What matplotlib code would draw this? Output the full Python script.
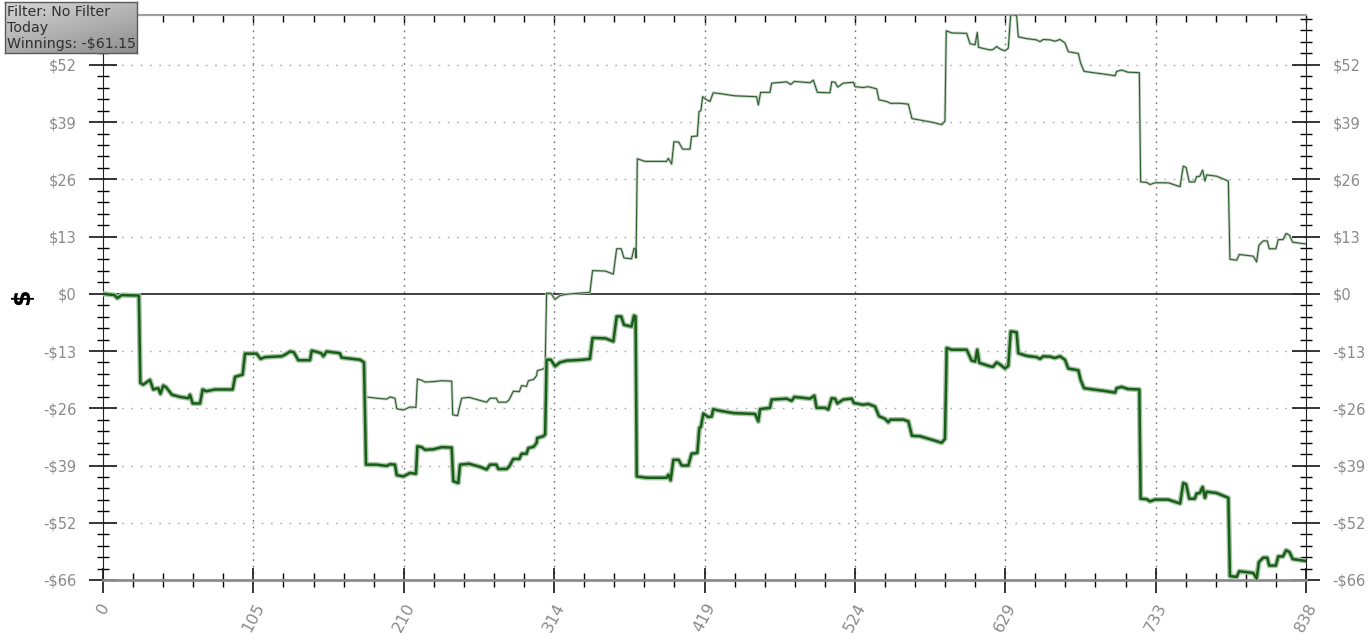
import numpy as np
import matplotlib
matplotlib.use("Agg")
import matplotlib.pyplot as plt
from matplotlib.ticker import FixedLocator, MultipleLocator

# ---------------- data ----------------
hands_won = [0, 8, 10, 13, 25, 26, 28, 32.7, 35, 38.5, 40, 42, 44, 48, 53.6, 59.4, 60.6, 62.5, 67.6,
             69.4, 72, 78, 90.3, 92, 97.3, 98.9, 107, 109.8, 112.8, 124.5, 127, 130.3, 133, 136,
             144.2, 145.4, 149, 152, 153.5, 155.8, 165, 166.2, 179, 181.8, 183.2, 190.6, 197.6, 200,
             203.4, 204.6, 209.2, 213.9, 218, 219, 222, 224.3, 230, 236, 242.9, 244, 247.5, 248.7,
             255, 262.6, 267.3, 269.6, 274, 275.4, 281.2, 283, 285.8, 290, 291.6, 295, 296.3, 300,
             302.1, 302.5, 306.7, 308, 309, 312, 314.9, 318.3, 323, 334, 339.2, 341, 350, 355.5,
             357.8, 361, 362.9, 368.2, 369.9, 371, 371.8, 378.7, 392.6, 393.8, 395.4, 397.3, 401,
             403.1, 407.7, 410, 414, 415.4, 416.5, 418.2, 421.6, 424, 425.1, 428.6, 439, 454.2,
             456.5, 457.7, 464.6, 465.8, 476.2, 479.7, 481.6, 492.5, 495.5, 497.1, 503, 505.2,
             507.6, 510, 511.5, 515.7, 521.5, 523.1, 529.6, 533, 537.8, 540.5, 544.7, 547, 548.5,
             557.5, 561, 563.5, 569.1, 578.4, 584.2, 586.5, 587.7, 591.2, 601.6, 605.1, 607.5, 609,
             610.4, 617.9, 620, 622.5, 625, 628.3, 630.6, 632.3, 636.4, 637.6, 643.4, 650.4, 652.7,
             655, 660, 663.1, 666.6, 670.1, 672.4, 679.4, 681, 683.4, 689.8, 696.8, 705, 706.1,
             709.6, 714, 721.9, 722.8, 727, 729.3, 732.8, 742.1, 750.3, 752.5, 754.5, 756.7, 760.5,
             761.8, 764, 766, 767.6, 768.8, 775.8, 783.9, 785, 789.7, 791.5, 801.3, 803.6, 805.2,
             808.2, 811, 812.4, 817, 818.7, 822, 824.1, 826.5, 828.7, 838]
winnings = [0, -0.3, -1.0, -0.3, -0.4, -20.4, -20.8, -19.7, -21.9, -21.6, -22.9, -21.0, -21.4, -23.1,
            -23.6, -23.9, -23.1, -25.1, -25.1, -21.9, -22.3, -21.9, -21.9, -19.0, -18.5, -13.7,
            -13.7, -14.9, -14.5, -14.3, -13.9, -13.2, -13.4, -15.2, -15.2, -13.0, -13.3, -13.6,
            -14.3, -13.2, -13.6, -14.6, -15.1, -15.7, -39.1, -39.1, -39.4, -39.0, -39.1, -41.5,
            -41.8, -41.0, -41.2, -34.9, -35.1, -35.7, -35.6, -35.1, -35.2, -42.9, -43.3, -39.1,
            -38.9, -39.6, -40.2, -39.1, -39.1, -40.1, -40.1, -39.5, -37.8, -37.8, -36.6, -36.6,
            -35.3, -35.0, -34.1, -33.0, -32.6, -32.2, -15.1, -15.1, -16.6, -15.7, -15.3, -15.1,
            -14.9, -10.1, -10.2, -10.9, -5.2, -5.2, -7.1, -7.5, -5.0, -5.2, -41.8, -42.1, -42.1,
            -41.4, -42.7, -38.0, -38.0, -39.3, -39.3, -36.6, -36.4, -30.7, -30.5, -27.4, -28.2,
            -28.1, -26.4, -26.7, -27.3, -27.5, -29.2, -26.4, -26.1, -24.2, -24.0, -24.5, -23.6,
            -24.0, -23.3, -26.1, -26.1, -26.5, -23.9, -24.0, -25.1, -24.2, -24.0, -25.0, -25.4,
            -25.2, -25.8, -28.0, -28.6, -29.4, -28.8, -28.8, -29.2, -32.5, -32.6, -33.5, -34.1,
            -33.2, -12.4, -12.8, -12.8, -15.3, -15.5, -12.8, -15.8, -16.6, -16.7, -15.7, -16.2,
            -17.1, -16.5, -8.6, -8.8, -13.6, -14.2, -14.5, -14.9, -14.3, -14.4, -14.7, -14.3,
            -15.1, -17.1, -17.5, -19.7, -21.6, -21.9, -22.2, -22.6, -21.6, -21.3, -21.8, -21.9,
            -46.9, -47.0, -47.5, -47.1, -47.1, -48.0, -43.3, -43.6, -46.9, -46.9, -45.7, -45.6,
            -44.2, -46.7, -45.3, -45.6, -46.7, -64.6, -64.8, -63.5, -63.9, -65.2, -61.4, -60.4,
            -60.4, -62.2, -62.2, -60.1, -60.1, -58.7, -59.1, -60.7, -61.15]

hands_ev = [0, 8, 10, 13, 25, 26, 28, 32.7, 35, 38.5, 40, 42, 44, 48, 53.6, 59.4, 60.6, 62.5, 67.6,
            69.4, 72, 78, 90.3, 92, 97.3, 98.9, 107, 109.8, 112.8, 124.5, 127, 130.3, 133, 136,
            144.2, 145.4, 149, 152, 153.5, 155.8, 165, 166.2, 179, 181.8, 183.2, 190.6, 197.6, 200,
            203.4, 204.6, 209.2, 213.9, 218, 219, 222, 224.3, 230, 236, 242.9, 243.6, 247, 249.8,
            255, 262.6, 267.3, 269.6, 274, 275.4, 281.2, 283, 285.8, 290, 291.6, 295, 296.3, 300,
            302.1, 302.5, 306.7, 308, 309, 312, 314.9, 318.3, 323, 334, 339.2, 341, 350, 355.5,
            357.8, 361, 362.9, 368.2, 369.9, 371, 371.3, 372.2, 377.5, 392.6, 393.8, 396.1, 397.7,
            401, 403.8, 408.9, 410, 414, 415.2, 416.5, 417.7, 420, 422.8, 425.1, 430, 440.2, 455.3,
            456.5, 458.1, 464.6, 465.8, 476.2, 479, 481.6, 492.5, 494.8, 497.6, 506.4, 507.6, 510,
            511.8, 515.7, 522.7, 523.9, 529.6, 533, 538.9, 540.5, 545.9, 548.5, 555.2, 561, 563.5,
            578.4, 584.2, 586.5, 587.4, 591.2, 601.6, 604, 607.5, 609, 609.9, 617.9, 620, 622.5,
            625, 628.3, 630.6, 632.3, 636.4, 637.6, 643.4, 650.4, 652.7, 655, 660, 663.1, 666.6,
            670.1, 672.4, 679.4, 681, 683.4, 689.8, 696.8, 705, 706.1, 709.6, 714, 721.9, 722.8,
            727, 729.3, 732.8, 742.1, 750.3, 752.5, 754.5, 756.7, 760.5, 761.8, 764, 766, 767.6,
            768.8, 775.8, 783.9, 785, 789.7, 791.5, 801.3, 803.6, 805.2, 808.2, 811, 812.4, 817,
            818.7, 822, 824.1, 826.5, 828.7, 838]
winnings_ev = [0, -0.3, -1.0, -0.3, -0.4, -20.4, -20.8, -19.7, -21.9, -21.6, -22.9, -21.0, -21.4,
               -23.1, -23.6, -23.9, -23.1, -25.1, -25.1, -21.9, -22.3, -21.9, -21.9, -19.0, -18.5,
               -13.7, -13.7, -14.9, -14.5, -14.3, -13.9, -13.2, -13.4, -15.2, -15.2, -13.0, -13.3,
               -13.6, -14.3, -13.2, -13.6, -14.6, -15.1, -15.7, -23.6, -23.9, -24.1, -23.6, -23.9,
               -26.3, -26.6, -25.9, -26.0, -19.5, -19.8, -20.2, -20.1, -19.9, -20.0, -27.7, -27.9,
               -23.9, -23.7, -24.4, -24.8, -23.9, -23.9, -24.8, -24.8, -24.2, -22.3, -22.4, -21.0,
               -21.2, -19.9, -19.6, -18.7, -17.6, -17.2, -16.8, 0.15, 0.1, -1.3, -0.4, -0.1, 0.2,
               0.3, 5.3, 5.2, 4.5, 10.3, 10.3, 8.2, 8.0, 10.4, 10.2, 8.2, 30.9, 30.3, 30.3, 31.0,
               29.7, 34.8, 34.7, 33.1, 33.1, 36.0, 36.1, 41.7, 41.9, 45.1, 44.5, 44.0, 46.0, 45.8,
               45.3, 45.1, 43.2, 46.1, 46.1, 48.2, 48.5, 47.9, 48.6, 48.3, 48.9, 46.1, 46.0, 48.5,
               48.4, 47.3, 48.2, 48.4, 47.4, 47.2, 47.4, 46.9, 44.4, 44.0, 43.6, 43.6, 43.4, 40.1,
               39.2, 38.7, 39.5, 60.2, 59.7, 59.6, 57.2, 57.0, 59.8, 56.4, 55.8, 55.9, 56.6, 56.0,
               55.6, 56.2, 63.9, 63.7, 58.8, 58.4, 58.1, 57.7, 58.2, 58.1, 57.8, 58.2, 57.4, 55.4,
               55.0, 52.8, 50.9, 50.6, 50.3, 49.9, 50.9, 51.2, 50.7, 50.6, 25.6, 25.5, 25.0, 25.4,
               25.4, 24.5, 29.2, 28.9, 25.6, 25.6, 26.8, 26.9, 28.3, 25.8, 27.2, 26.9, 25.8, 7.9,
               7.7, 9.0, 8.6, 7.3, 11.1, 12.1, 12.1, 10.3, 10.3, 12.4, 12.4, 13.8, 13.4, 11.8, 11.4]

x_ticks = [0, 104.75, 209.5, 314.25, 419, 523.75, 628.5, 733.25, 838]
x_labels = ['0', '105', '210', '314', '419', '524', '629', '733', '838']
y_ticks = [-65.5, -52.4, -39.3, -26.2, -13.1, 0, 13.1, 26.2, 39.3, 52.4]
y_labels = ['-$66', '-$52', '-$39', '-$26', '-$13', '$0', '$13', '$26', '$39', '$52']
info_lines = ['Filter: No Filter', 'Today', 'Winnings: -$61.15']

# ---------------- figure ----------------
W, H = 1369, 635
fig = plt.figure(figsize=(W / 100, H / 100), dpi=100, facecolor='white')
ax = fig.add_axes([103 / W, 1 - 580 / H, (1306 - 103) / W, (580 - 15) / H])
ax.set_xlim(0, 838)
ax.set_ylim(-65.5, 63.8)

# grid
for yv in y_ticks:
    if yv != 0:
        ax.axhline(yv, color='#a8a8a8', lw=1.0, ls=(0, (1.2, 5.5)), zorder=1)
for xv in x_ticks[1:-1]:
    ax.axvline(xv, color='#707070', lw=1.0, ls=(0, (1.2, 3.5)), zorder=1)
ax.axhline(0, color='#303030', lw=1.3, zorder=2)

# series
ax.plot(hands_ev, winnings_ev, color='#c0cfc0', lw=2.0, zorder=3, solid_joinstyle='round')
ax.plot(hands_ev, winnings_ev, color='#2f5f2f', lw=0.8, zorder=4, solid_joinstyle='round')
ax.plot(hands_won, winnings, color='#a9c4a9', lw=3.8, zorder=5, solid_joinstyle='round')
ax.plot(hands_won, winnings, color='#175e17', lw=1.8, zorder=6, solid_joinstyle='round')

# ticks
ax.xaxis.set_major_locator(FixedLocator(x_ticks))
ax.xaxis.set_minor_locator(MultipleLocator(838 / 40))
ax.set_xticklabels(x_labels, rotation=62, ha='center', va='top')
ax.yaxis.set_major_locator(FixedLocator(y_ticks))
ax.yaxis.set_minor_locator(MultipleLocator(13.1 / 5))
ax.set_yticklabels(y_labels)

ax.tick_params(axis='y', which='major', direction='inout', length=20, width=1.1,
               color='black', left=True, right=True, labelleft=True, labelright=True,
               labelcolor='#8a8a8a', labelsize=10.5, pad=9)
ax.tick_params(axis='y', which='minor', direction='inout', length=9, width=1.0,
               color='black', left=True, right=True)
ax.tick_params(axis='x', which='major', direction='inout', length=18, width=1.1,
               color='black', top=False, bottom=True, labelcolor='#8a8a8a',
               labelsize=11.5, pad=6)
ax.tick_params(axis='x', which='minor', direction='inout', length=10, width=1.0,
               color='black', top=False, bottom=True)

# top ticks (inward only)
sec = ax.secondary_xaxis('top')
sec.xaxis.set_major_locator(FixedLocator(x_ticks))
sec.xaxis.set_minor_locator(MultipleLocator(838 / 40))
sec.tick_params(axis='x', which='major', direction='in', length=6, width=1.0,
                color='black', labeltop=False)
sec.tick_params(axis='x', which='minor', direction='in', length=5, width=1.0,
                color='black')
sec.spines['top'].set_color('#a0a0a0')
sec.spines['top'].set_linewidth(1.5)

ax.spines['top'].set_color('#a0a0a0')
ax.spines['top'].set_linewidth(1.5)
ax.spines['bottom'].set_color('#8c8c8c')
ax.spines['bottom'].set_linewidth(2.0)
ax.spines['left'].set_color('#202020')
ax.spines['right'].set_color('#202020')

fig.text(22 / W, 1 - 297 / H, '$', rotation=90, fontsize=17, fontweight='bold',
         color='black', ha='center', va='center')

# info box
bax = fig.add_axes([5 / W, 1 - 53 / H, 132 / W, 51 / H])
grad = np.linspace(0, 1, 100).reshape(-1, 1) * 0.6 + np.linspace(0, 1, 100).reshape(1, -1) * 0.4
bax.imshow(grad, cmap=matplotlib.colors.LinearSegmentedColormap.from_list(
    'g', ['#d6d6d6', '#8e8e8e']), aspect='auto', extent=[0, 1, 0, 1], origin='upper')
bax.set_xlim(0, 1)
bax.set_ylim(0, 1)
bax.set_xticks([])
bax.set_yticks([])
for s in bax.spines.values():
    s.set_color('#5a5a5a')
    s.set_linewidth(1.0)
for i, t in enumerate(info_lines):
    bax.text(0.015, 0.80 - i * 0.31, t, fontsize=10.2, color='#303030',
             ha='left', va='center', transform=bax.transAxes)

fig.savefig('out.png', dpi=100, facecolor='white')
